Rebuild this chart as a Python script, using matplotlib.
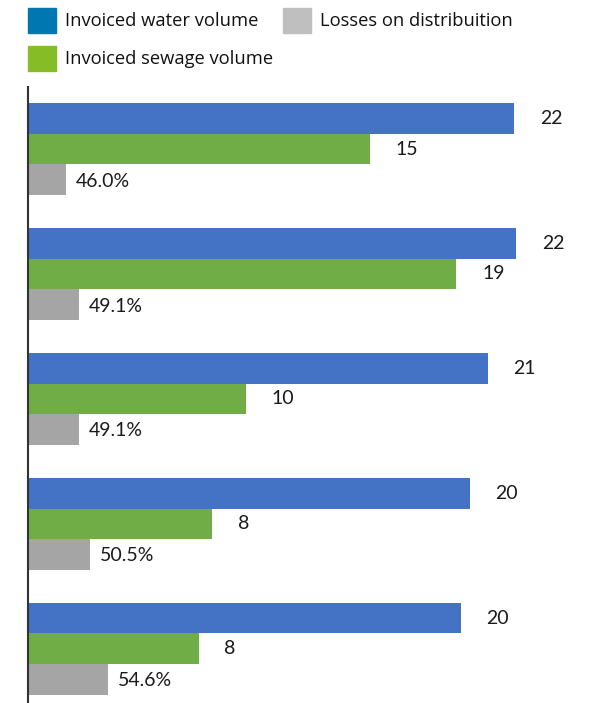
import numpy as np
import matplotlib.pyplot as plt
from matplotlib.patches import Rectangle

# bar lengths (labels shown are rounded / percentages)
water = [21.9, 22.0, 20.7, 19.9, 19.5]
sewage = [15.4, 19.3, 9.8, 8.3, 7.7]
losses = [1.7, 2.3, 2.3, 2.8, 3.6]
water_labels = ["22", "22", "21", "20", "20"]
sewage_labels = ["15", "19", "10", "8", "8"]
loss_labels = ["46.0%", "49.1%", "49.1%", "50.5%", "54.6%"]

c_water, c_sewage, c_loss = "#4472C4", "#70AD47", "#A5A5A5"

W, H = 602, 703
fig = plt.figure(figsize=(W / 100, H / 100), dpi=100)
ax = fig.add_axes([28 / W, 0, (W - 28) / W, (H - 87) / H])

step = 4.086
y = np.arange(len(water)) * step
ax.barh(y - 1, water, height=1, color=c_water)
ax.barh(y, sewage, height=1, color=c_sewage)
ax.barh(y + 1, losses, height=1, color=c_loss)

lab_font = dict(family=["Lato", "DejaVu Sans"], fontsize=14, color="#1a1a1a", va="center")
for i in range(len(water)):
    ax.text(water[i] + 1.15, y[i] - 1, water_labels[i], **lab_font)
    ax.text(sewage[i] + 1.15, y[i], sewage_labels[i], **lab_font)
    ax.text(losses[i] + 0.45, y[i] + 1.05, loss_labels[i], **lab_font)

ax.set_xlim(0, (W - 28) / 22.2)
ax.set_ylim(18.12, -2.03)
for s in ["top", "right", "bottom"]:
    ax.spines[s].set_visible(False)
ax.spines["left"].set_color("#333333")
ax.spines["left"].set_linewidth(1.5)
ax.set_xticks([])
ax.set_yticks([])

# legend drawn as figure patches + text
leg = [("Invoiced water volume", "#0077B0", 28, 8),
       ("Losses on distribuition", "#BFBFBF", 283, 8),
       ("Invoiced sewage volume", "#86BC25", 28, 46)]
for text, col, px, py in leg:
    fig.add_artist(Rectangle((px / W, 1 - (py + 25) / H), 28 / W, 25 / H,
                             transform=fig.transFigure, color=col))
    fig.text((px + 37) / W, 1 - (py + 13) / H, text, fontsize=13.2,
             family=["Open Sans", "DejaVu Sans"], va="center", color="#111111")

fig.savefig("out.png", dpi=100)
